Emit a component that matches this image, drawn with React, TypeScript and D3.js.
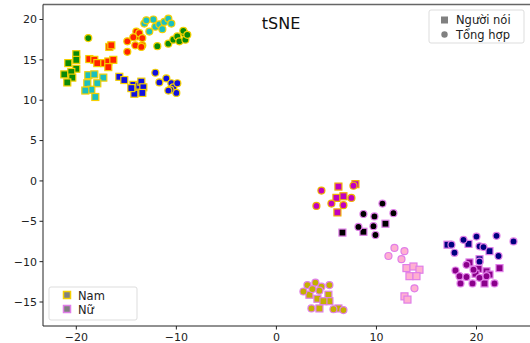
import * as d3 from 'd3';

// tSNE embedding: squares = real speaker, circles = synthesized
const greenReal = [[-20.0, 15.7], [-20.0, 15.0], [-20.8, 14.6], [-20.0, 13.9], [-21.2, 13.2], [-20.5, 13.5], [-20.4, 12.8], [-20.9, 12.2]];
const greenSynth = [[-18.8, 17.7], [-11.9, 16.7], [-10.8, 17.0], [-10.3, 17.5], [-9.9, 17.9], [-9.7, 17.3], [-9.2, 18.3], [-9.1, 17.5], [-9.3, 18.6], [-8.9, 18.1]];
const cyanReal = [[-18.8, 13.1], [-18.2, 13.2], [-17.3, 12.8], [-17.9, 12.1], [-18.9, 12.1], [-18.5, 11.3], [-19.1, 11.2], [-18.1, 10.4]];
const cyanSynth = [[-13.2, 19.5], [-12.7, 18.5], [-12.3, 20.0], [-12.1, 19.1], [-11.7, 19.4], [-11.4, 18.8], [-11.2, 19.7], [-10.8, 20.1], [-10.5, 19.5], [-13.0, 19.9]];
const redReal = [[-18.7, 15.1], [-18.2, 15.0], [-17.9, 14.6], [-17.2, 14.6], [-16.8, 14.8], [-16.3, 15.0], [-16.7, 16.6], [-16.5, 16.8], [-16.8, 14.1]];
const redSynth = [[-14.9, 17.3], [-14.9, 16.0], [-14.0, 18.5], [-13.9, 17.9], [-13.7, 18.3], [-13.4, 17.7], [-14.3, 17.8], [-13.4, 16.8], [-14.1, 16.8], [-13.5, 16.6]];
const blueReal = [[-15.7, 12.9], [-15.2, 12.5], [-14.3, 11.9], [-14.1, 11.4], [-13.7, 11.8], [-13.5, 12.3], [-13.3, 11.6], [-14.2, 10.8], [-13.4, 10.9], [-14.5, 11.5]];
const blueSynth = [[-12.1, 13.4], [-11.7, 12.2], [-11.0, 12.7], [-10.5, 12.1], [-10.3, 11.6], [-9.9, 12.1], [-10.0, 10.9], [-10.6, 11.3], [-10.8, 11.2]];
const magentaReal = [[6.2, -0.7], [7.9, -0.4], [6.0, -2.1], [6.7, -1.9], [6.1, -3.9]];
const magentaSynth = [[4.5, -1.2], [4.0, -3.1], [5.5, -2.8], [6.7, -3.0], [7.5, -2.1], [7.7, -0.6]];
const blackReal = [[10.9, -5.3], [8.7, -6.3], [6.6, -6.4]];
const blackSynth = [[10.6, -2.8], [8.7, -4.1], [9.8, -4.4], [11.7, -4.0], [8.2, -5.7], [9.7, -5.6], [9.9, -6.7]];
const pinkReal = [[13.0, -10.8], [13.7, -10.6], [14.3, -11.0], [13.3, -11.8], [14.0, -11.8], [12.8, -14.3], [13.1, -14.7]];
const pinkSynth = [[11.8, -8.3], [12.8, -8.7], [12.5, -9.7], [11.2, -9.3], [13.8, -13.3]];
const oliveReal = [[3.3, -14.1], [4.1, -14.6], [5.2, -14.1], [5.3, -14.9], [4.3, -15.8], [4.7, -14.9], [6.2, -15.8]];
const oliveSynth = [[2.7, -13.7], [3.1, -12.9], [3.9, -12.6], [4.5, -13.1], [5.3, -12.9], [3.5, -15.8], [5.7, -15.9], [4.3, -13.6], [3.6, -13.4], [6.7, -16.0]];
const navyReal = [[17.1, -7.9], [19.2, -7.8], [21.3, -8.7], [20.3, -9.7]];
const navySynth = [[17.5, -7.9], [18.7, -7.3], [20.0, -6.9], [22.0, -6.8], [23.7, -7.5], [20.3, -8.1], [17.8, -8.9], [22.2, -9.3], [20.3, -10.0], [20.7, -8.2]];
const purpleReal = [[19.3, -10.1], [20.2, -10.9], [21.0, -11.2], [21.3, -11.6], [20.8, -12.7], [22.3, -10.8], [19.9, -11.5]];
const purpleSynth = [[17.9, -11.1], [18.3, -11.8], [19.0, -10.4], [19.7, -11.0], [20.3, -12.0], [21.0, -11.8], [21.8, -12.7], [18.4, -12.7], [19.6, -12.7], [19.0, -11.9]];

const xTicks = [-20, -10, 0, 10, 20];
const yTicks = [-15, -10, -5, 0, 5, 10, 15, 20];

const MALE_EDGE = '#f5d000';
const FEMALE_EDGE = '#e07ee8';

const speakers = [
  { fill: '#0a8a0a', edge: MALE_EDGE, real: greenReal, synth: greenSynth },
  { fill: '#1cbfbf', edge: MALE_EDGE, real: cyanReal, synth: cyanSynth },
  { fill: '#ff2200', edge: MALE_EDGE, real: redReal, synth: redSynth },
  { fill: '#1010e0', edge: MALE_EDGE, real: blueReal, synth: blueSynth },
  { fill: '#c000c0', edge: '#f0b000', real: magentaReal, synth: magentaSynth },
  { fill: '#000000', edge: FEMALE_EDGE, real: blackReal, synth: blackSynth },
  { fill: '#ffb0d0', edge: FEMALE_EDGE, real: pinkReal, synth: pinkSynth },
  { fill: '#c4b000', edge: FEMALE_EDGE, real: oliveReal, synth: oliveSynth },
  { fill: '#000080', edge: FEMALE_EDGE, real: navyReal, synth: navySynth },
  { fill: '#8a008a', edge: FEMALE_EDGE, real: purpleReal, synth: purpleSynth },
];

const fmt = (v: number) => (v < 0 ? '\u2212' + Math.abs(v) : String(v));

export default function App() {
  const width = 530;
  const height = 343;
  const left = 43;
  const top = 4.5;
  const bottom = 326;

  const x = d3.scaleLinear().domain([-20, 20]).range([76.3, 476.5]);
  const y = d3.scaleLinear().domain([-15, 20]).range([302, 19.5]);

  const font = 'DejaVu Sans, sans-serif';
  const s = 7;

  return (
    <svg
      width={width}
      height={height}
      style={{ position: 'absolute', left: 0, top: 0, display: 'block', background: '#fff' }}
      fontFamily={font}
    >
      {/* points */}
      {speakers.map((sp, i) => (
        <g key={i}>
          {sp.real.map((d, j) => (
            <rect
              key={'r' + j}
              x={x(d[0]) - s / 2}
              y={y(d[1]) - s / 2}
              width={s}
              height={s}
              fill={sp.fill}
              stroke={sp.edge}
              strokeWidth={1.2}
            />
          ))}
          {sp.synth.map((d, j) => (
            <circle
              key={'c' + j}
              cx={x(d[0])}
              cy={y(d[1])}
              r={s / 2}
              fill={sp.fill}
              stroke={sp.edge}
              strokeWidth={1.2}
            />
          ))}
        </g>
      ))}

      {/* spines */}
      <line x1={left} x2={width} y1={top} y2={top} stroke="#666" strokeWidth={1.6} />
      <line x1={left} x2={left} y1={top} y2={bottom} stroke="#222" strokeWidth={1} />
      <line x1={left} x2={width} y1={bottom} y2={bottom} stroke="#222" strokeWidth={1} />

      {/* x axis */}
      {xTicks.map((t) => (
        <g key={'x' + t} transform={`translate(${x(t)},${bottom})`}>
          <line y2={3.5} stroke="#222" />
          <text y={15} textAnchor="middle" fontSize={11} fill="#222">
            {fmt(t)}
          </text>
        </g>
      ))}

      {/* y axis */}
      {yTicks.map((t) => (
        <g key={'y' + t} transform={`translate(${left},${y(t)})`}>
          <line x2={-3.5} stroke="#222" />
          <text x={-6} dy="0.35em" textAnchor="end" fontSize={11} fill="#222">
            {fmt(t)}
          </text>
        </g>
      ))}

      {/* title */}
      <text x={281} y={29} textAnchor="middle" fontSize={16} fill="#111">
        tSNE
      </text>

      {/* marker type legend */}
      <g transform="translate(429,10)">
        <rect width={95} height={33} rx={2} fill="#fff" stroke="#ddd" />
        <rect x={12} y={6.5} width={7} height={7} fill="#808080" />
        <text x={27} y={14} fontSize={11.5} fill="#222">Người nói</text>
        <circle cx={15.5} cy={24.5} r={3.2} fill="#808080" />
        <text x={27} y={29} fontSize={11.5} fill="#222">Tổng hợp</text>
      </g>

      {/* gender legend */}
      <g transform="translate(49,287)">
        <rect width={88} height={33} rx={2} fill="#fff" stroke="#ddd" />
        <rect x={14.5} y={4.5} width={7} height={7} fill="#808080" stroke={MALE_EDGE} strokeWidth={1.5} />
        <text x={29} y={13} fontSize={11.5} fill="#222">Nam</text>
        <rect x={14.5} y={18.5} width={7} height={7} fill="#808080" stroke={FEMALE_EDGE} strokeWidth={1.5} />
        <text x={29} y={27} fontSize={11.5} fill="#222">Nữ</text>
      </g>
    </svg>
  );
}
